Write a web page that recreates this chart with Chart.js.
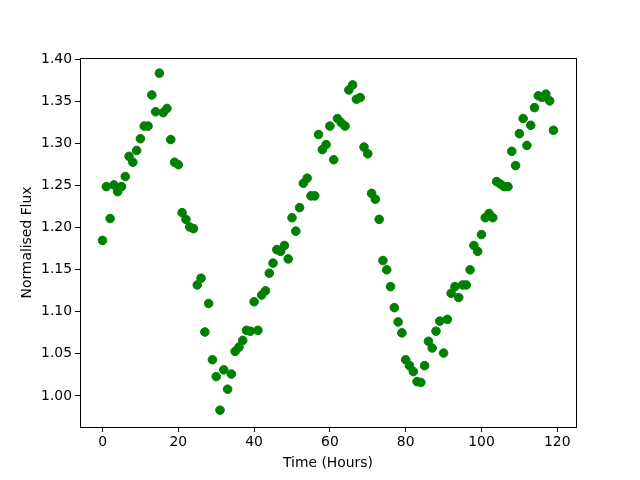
<!DOCTYPE html>
<html>
<head>
<meta charset="utf-8">
<script src="https://cdn.jsdelivr.net/npm/chart.js@4"></script>
<style>
  html, body { margin: 0; padding: 0; background: #fff; }
  #wrap { width: 640px; height: 480px; }
</style>
</head>
<body>
<div id="wrap"><canvas id="chart-canvas" width="640" height="480"></canvas></div>
<script>
// Observation times (hours) and normalised flux readings
const hours = [];
for (let h = 0; h < 120; h++) hours.push(h);

const flux = [
    1.185, 1.249, 1.211, 1.251, 1.243, 1.249, 1.261, 1.285, 1.278, 1.292,
    1.306, 1.321, 1.321, 1.358, 1.338, 1.384, 1.337, 1.342, 1.305, 1.278,
    1.275, 1.218, 1.210, 1.201, 1.199, 1.132, 1.140, 1.076, 1.110, 1.043,
    1.023, 0.983, 1.031, 1.008, 1.026, 1.053, 1.058, 1.066, 1.078, 1.077,
    1.112, 1.078, 1.120, 1.125, 1.146, 1.158, 1.174, 1.172, 1.179, 1.163,
    1.212, 1.196, 1.224, 1.253, 1.259, 1.238, 1.238, 1.311, 1.293, 1.299,
    1.321, 1.281, 1.330, 1.325, 1.321, 1.364, 1.370, 1.353, 1.355, 1.296,
    1.288, 1.241, 1.234, 1.210, 1.161, 1.150, 1.130, 1.105, 1.088, 1.075,
    1.043, 1.036, 1.029, 1.017, 1.016, 1.036, 1.065, 1.057, 1.077, 1.089,
    1.051, 1.091, 1.122, 1.130, 1.117, 1.132, 1.132, 1.150, 1.179, 1.172,
    1.192, 1.212, 1.217, 1.212, 1.255, 1.252, 1.249, 1.249, 1.291, 1.274,
    1.312, 1.330, 1.298, 1.322, 1.343, 1.357, 1.355, 1.359, 1.351, 1.316
];

// Tick labels
const xTicks = [0, 20, 40, 60, 80, 100, 120];
const yTicks = [1.00, 1.05, 1.10, 1.15, 1.20, 1.25, 1.30, 1.35, 1.40];

const points = hours.map((h, i) => ({ x: h, y: flux[i] }));

// Draws the full box round the plot area, like matplotlib spines
const frame = {
    id: 'frame',
    afterDraw(chart) {
        const a = chart.chartArea;
        const c = chart.ctx;
        c.save();
        c.strokeStyle = '#000';
        c.lineWidth = 1;
        c.strokeRect(Math.round(a.left) + 0.5, Math.round(a.top) + 0.5,
            Math.round(a.right - a.left), Math.round(a.bottom - a.top));
        c.restore();
    }
};

const tickFont = { family: 'DejaVu Sans', size: 13.9 };

const ctx = document.getElementById('chart-canvas');
const chart = new Chart(ctx, {
    type: 'scatter',
    data: {
        datasets: [{
            data: points,
            backgroundColor: '#008000',
            borderColor: '#008000',
            borderWidth: 1,
            pointRadius: 4.3,
            pointHoverRadius: 4.3
        }]
    },
    options: {
        responsive: false,
        animation: false,
        events: [],
        layout: { padding: { top: 58, right: 64, left: 0, bottom: 0 } },
        plugins: {
            legend: { display: false },
            tooltip: { enabled: false }
        },
        scales: {
            x: {
                type: 'linear',
                min: -5.95,
                max: 124.95,
                afterBuildTicks: (scale) => { scale.ticks = xTicks.map(v => ({ value: v })); },
                afterFit: (scale) => { scale.height = 53; },
                ticks: { color: '#000', font: tickFont, padding: 2, maxRotation: 0 },
                grid: { drawOnChartArea: false, drawTicks: true, tickLength: 5, color: '#000' },
                border: { display: true, color: '#000' },
                title: {
                    display: true,
                    text: 'Time (Hours)',
                    color: '#000',
                    font: tickFont,
                    padding: { top: 0, bottom: 8 }
                }
            },
            y: {
                type: 'linear',
                min: 0.963,
                max: 1.402,
                afterBuildTicks: (scale) => { scale.ticks = yTicks.map(v => ({ value: v })); },
                afterFit: (scale) => { scale.width = 80; },
                ticks: {
                    color: '#000',
                    font: tickFont,
                    padding: 3,
                    callback: (v) => Number(v).toFixed(2)
                },
                grid: { drawOnChartArea: false, drawTicks: true, tickLength: 5, color: '#000' },
                border: { display: true, color: '#000' },
                title: {
                    display: true,
                    text: 'Normalised Flux',
                    color: '#000',
                    font: tickFont,
                    padding: { top: 19, bottom: 0 }
                }
            }
        }
    },
    plugins: [frame]
});
</script>
</body>
</html>
